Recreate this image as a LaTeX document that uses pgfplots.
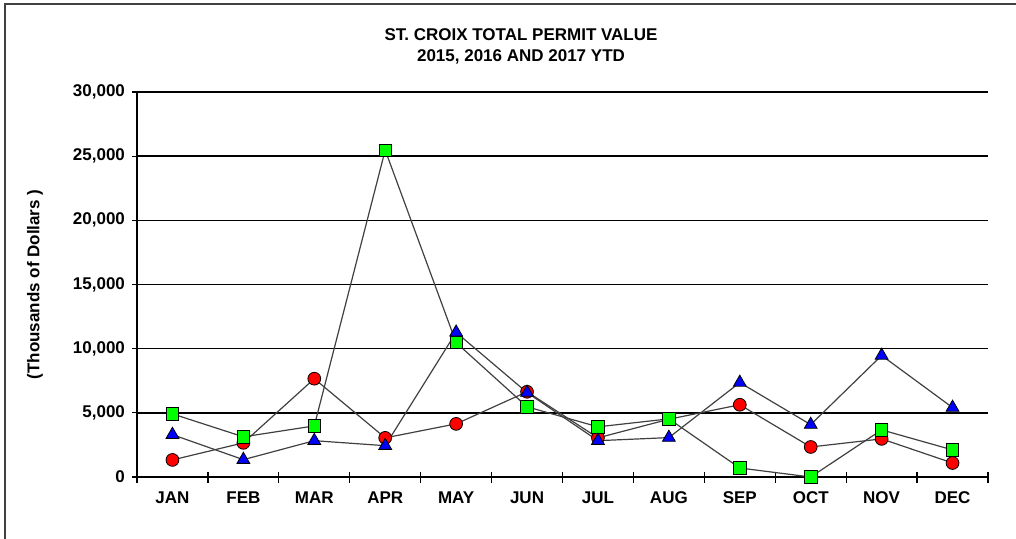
\documentclass[border=0pt]{standalone}
\usepackage{fontspec}
\setmainfont{Liberation Sans}
\usepackage{pgfplots}
\pgfplotsset{compat=1.18}
\begin{document}
\begin{tikzpicture}
\path[use as bounding box] (0pt,0pt) rectangle (508pt,-269.5pt);
\draw[line width=0.9pt, black!75] (2.5pt,-269.5pt) -- (2.5pt,-2pt) -- (508pt,-2pt);
\node[font=\bfseries\fontsize{8.5}{10.5}\selectfont, align=center] at (260.5pt,-23.25pt) {ST. CROIX TOTAL PERMIT VALUE\\2015, 2016 AND 2017 YTD};
\begin{axis}[
  at={(68.5pt,-238.5pt)}, anchor=south west,
  scale only axis, width=425.5pt, height=192.5pt,
  xmin=-0.5, xmax=11.5, ymin=0, ymax=30000,
  axis x line*=bottom, axis y line*=left,
  axis line style={black, line width=0.75pt, -},
  xtick={0,...,11},
  xticklabels={JAN,FEB,MAR,APR,MAY,JUN,JUL,AUG,SEP,OCT,NOV,DEC},
  major x tick style={draw=none},
  minor xtick={-0.5,0.5,...,11.5},
  minor x tick style={black, line width=0.6pt},
  minor tick length=5.5pt,
  xtick align=center,
  ytick={0,5000,...,30000},
  ytick align=outside,
  major tick length=2.5pt,
  y tick style={black, line width=0.6pt},
  ymajorgrids, grid style={black, line width=0.75pt},
  tick label style={font=\bfseries\fontsize{8.5}{10}\selectfont},
  xticklabel style={yshift=-2.5pt},
  /pgf/number format/assume math mode=true,
  yticklabel style={/pgf/number format/1000 sep={,}},
  scaled y ticks=false,
  ylabel={(Thousands of Dollars )},
  ylabel style={font=\bfseries\fontsize{8.5}{10}\selectfont, at={(axis description cs:-0.1199,0.5)}, anchor=center},
  every axis plot/.append style={black!75, line width=0.6pt},
  clip=false,
]
\addplot[mark=*, mark size=3.2pt, mark options={fill=red, draw=black, line width=0.4pt}]
coordinates {(0,1330) (1,2660) (2,7660) (3,3050) (4,4140) (5,6640) (6,3050) (7,4500) (8,5630) (9,2340) (10,2970) (11,1090)};
\addplot[mark=square*, mark size=3.1pt, mark options={fill=green, draw=black, line width=0.4pt}]
coordinates {(0,4920) (1,3130) (2,3980) (3,25470) (4,10470) (5,5470) (6,3910) (7,4530) (8,700) (9,0) (10,3670) (11,2110)};
\addplot[mark=triangle*, mark size=3.7pt, mark options={fill=blue, draw=black, line width=0.4pt}]
coordinates {(0,3300) (1,1350) (2,2830) (3,2440) (4,11270) (5,6580) (6,2830) (7,3070) (8,7360) (9,4080) (10,9470) (11,5410)};
\end{axis}
\end{tikzpicture}
\end{document}
